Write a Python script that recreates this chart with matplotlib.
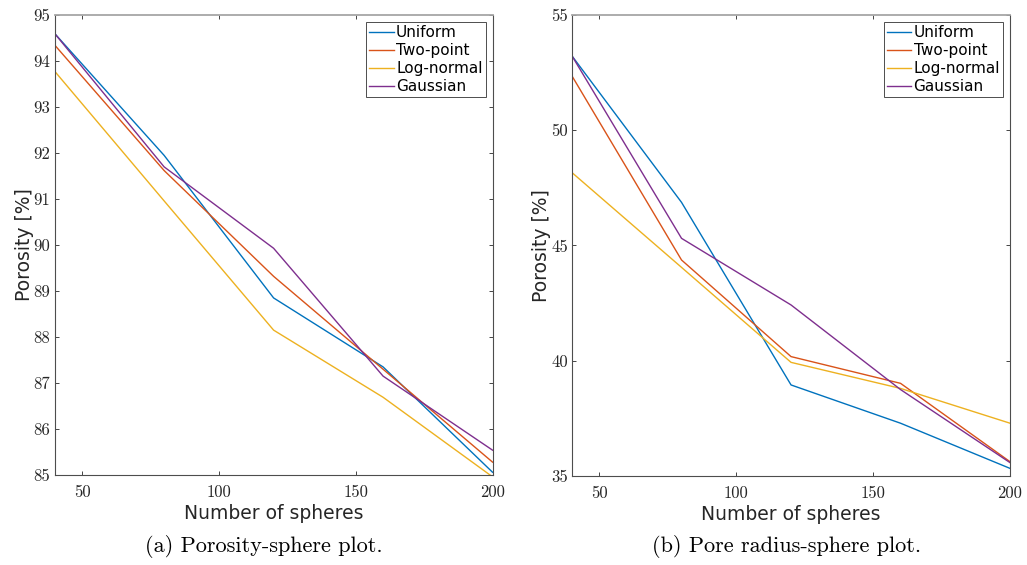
import numpy as np
import matplotlib
matplotlib.use("Agg")
import matplotlib.pyplot as plt

# number of spheres in the packing
spheres = [40, 80, 120, 160, 200]
series_names = ["Uniform", "Two-point", "Log-normal", "Gaussian"]

# porosity [%] per size distribution
porosity_uniform = [94.60, 91.95, 88.85, 87.35, 85.06]
porosity_twopoint = [94.35, 91.62, 89.32, 87.30, 85.28]
porosity_lognormal = [93.78, 90.96, 88.15, 86.69, 84.96]
porosity_gaussian = [94.60, 91.70, 89.93, 87.15, 85.54]

# pore radius plot (axis label kept as in the report)
radius_uniform = [53.22, 46.87, 38.95, 37.29, 35.33]
radius_twopoint = [52.35, 44.37, 40.18, 39.02, 35.62]
radius_lognormal = [48.16, 44.05, 39.93, 38.80, 37.29]
radius_gaussian = [53.22, 45.31, 42.42, 38.75, 35.58]

colors = ["#0072BD", "#D95319", "#EDB120", "#7E2F8E"]
ax_color = "#262626"

fig = plt.figure(figsize=(10.27, 5.65), dpi=100)


def style_axes(ax, ylim, yticks):
    ax.set_xlim(40, 200)
    ax.set_ylim(*ylim)
    ax.set_xticks([50, 100, 150, 200])
    ax.set_yticks(yticks)
    ax.set_xticklabels([str(t) for t in [50, 100, 150, 200]], family="cmr10", fontsize=12)
    ax.set_yticklabels([str(t) for t in yticks], family="cmr10", fontsize=12)
    ax.tick_params(direction="in", length=3, width=0.6, colors=ax_color,
                   top=True, right=True, pad=3)
    ax.tick_params(axis="x", pad=7)
    for side in ["left", "bottom", "right"]:
        ax.spines[side].set_color("#4d4d4d")
        ax.spines[side].set_linewidth(0.8)
    ax.spines["top"].set_color("#a6a6a6")
    ax.spines["top"].set_linewidth(1.3)
    ax.set_xlabel("Number of spheres", fontsize=13.5, color=ax_color, labelpad=3)
    ax.set_ylabel("Porosity [%]", fontsize=13.5, color=ax_color, labelpad=0)
    leg = ax.legend(loc="upper right", fontsize=11, handlelength=1.6, handletextpad=0.15,
                    borderpad=0.2, labelspacing=0.2, borderaxespad=0.45,
                    fancybox=False, framealpha=1)
    leg.get_frame().set_edgecolor("#4d4d4d")
    leg.get_frame().set_linewidth(0.7)


ax1 = fig.add_axes([0.0532, 0.1593, 0.4264, 0.814])
for vals, name, c in zip([porosity_uniform, porosity_twopoint, porosity_lognormal, porosity_gaussian],
                         series_names, colors):
    ax1.plot(spheres, vals, color=c, lw=1.0, label=name)
style_axes(ax1, (85, 95), list(range(85, 96)))

ax2 = fig.add_axes([0.557, 0.1575, 0.4265, 0.816])
for vals, name, c in zip([radius_uniform, radius_twopoint, radius_lognormal, radius_gaussian],
                         series_names, colors):
    ax2.plot(spheres, vals, color=c, lw=1.0, label=name)
style_axes(ax2, (35, 55), [35, 40, 45, 50, 55])

# subfigure captions
fig.text(0.2573, 0.032, "(a) Porosity-sphere plot.", family="cmr10", fontsize=16,
         ha="center", va="center")
fig.text(0.7655, 0.032, "(b) Pore radius-sphere plot.", family="cmr10", fontsize=16,
         ha="center", va="center")

fig.savefig("out.png", dpi=100)
